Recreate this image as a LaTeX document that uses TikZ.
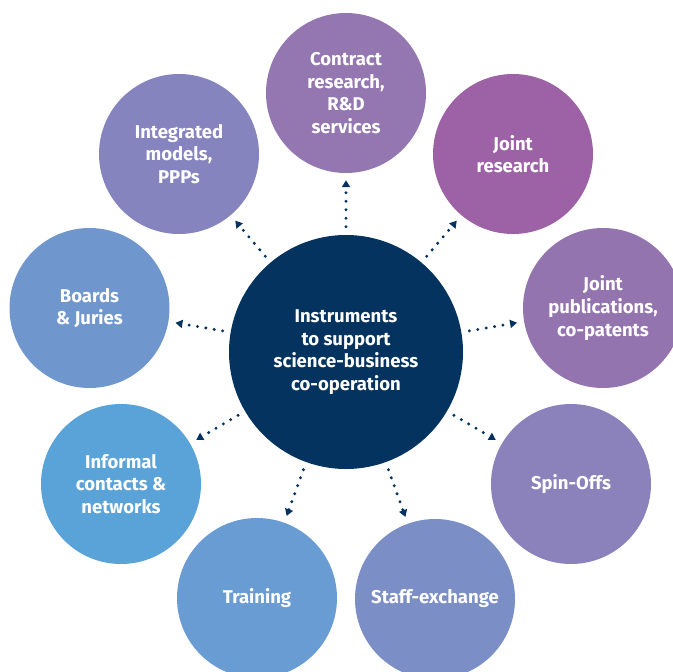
\documentclass[tikz,border=0pt]{standalone}
\usepackage{fontspec}
\setmainfont{Fira Sans}
\usetikzlibrary{arrows.meta}
\definecolor{cnavy}{HTML}{04335F}
\definecolor{ccontract}{HTML}{9476B0}
\definecolor{cjoint}{HTML}{9D62A6}
\definecolor{cpubs}{HTML}{9474AF}
\definecolor{cspin}{HTML}{8B82BB}
\definecolor{cstaff}{HTML}{7B8FC6}
\definecolor{ctrain}{HTML}{699CD3}
\definecolor{cinformal}{HTML}{5AA3D9}
\definecolor{cboards}{HTML}{7097CD}
\definecolor{cinteg}{HTML}{8584BF}
\begin{document}
\begin{tikzpicture}[x=1pt,y=-1pt,
  bubble/.style={circle,minimum size=160pt,inner sep=0pt,text=white,align=center,
    font=\fontsize{18.5}{22.6}\selectfont\bfseries},
  hub/.style={bubble,fill=cnavy,minimum size=234pt},
  link/.style={cnavy,line width=3.3pt,line cap=round,dash pattern=on 0pt off 8.5pt,
    shorten <=8pt,shorten >=7pt,-{Triangle[length=7pt,width=8pt]}}]
\useasboundingbox (0,0) rectangle (673,672);
\clip (0,0) rectangle (673,672);
\node[hub] (c) at (346,352) {Instruments\\to support\\science-business\\co-operation};
\node[bubble,fill=ccontract] (contract) at (346,93) {Contract\\research,\\R\&D\\services};
\node[bubble,fill=cjoint] (joint) at (513,154) {Joint\\research};
\node[bubble,fill=cpubs] (pubs) at (603,308) {Joint\\publications,\\co-patents};
\node[bubble,fill=cspin] (spin) at (571,484) {Spin-Offs};
\node[bubble,fill=cstaff] (staff) at (435,599) {Staff-exchange};
\node[bubble,fill=ctrain] (train) at (257,598) {Training};
\node[bubble,fill=cinformal] (informal) at (121,484) {Informal\\contacts \&\\networks};
\node[bubble,fill=cboards] (boards) at (89.5,308) {Boards\\\& Juries};
\node[bubble,fill=cinteg] (integ) at (179,154) {Integrated\\models,\\PPPs};
\foreach \t in {contract,joint,pubs,spin,staff,train,informal,boards,integ}
  \draw[link] (c) -- (\t);
\end{tikzpicture}
\end{document}
